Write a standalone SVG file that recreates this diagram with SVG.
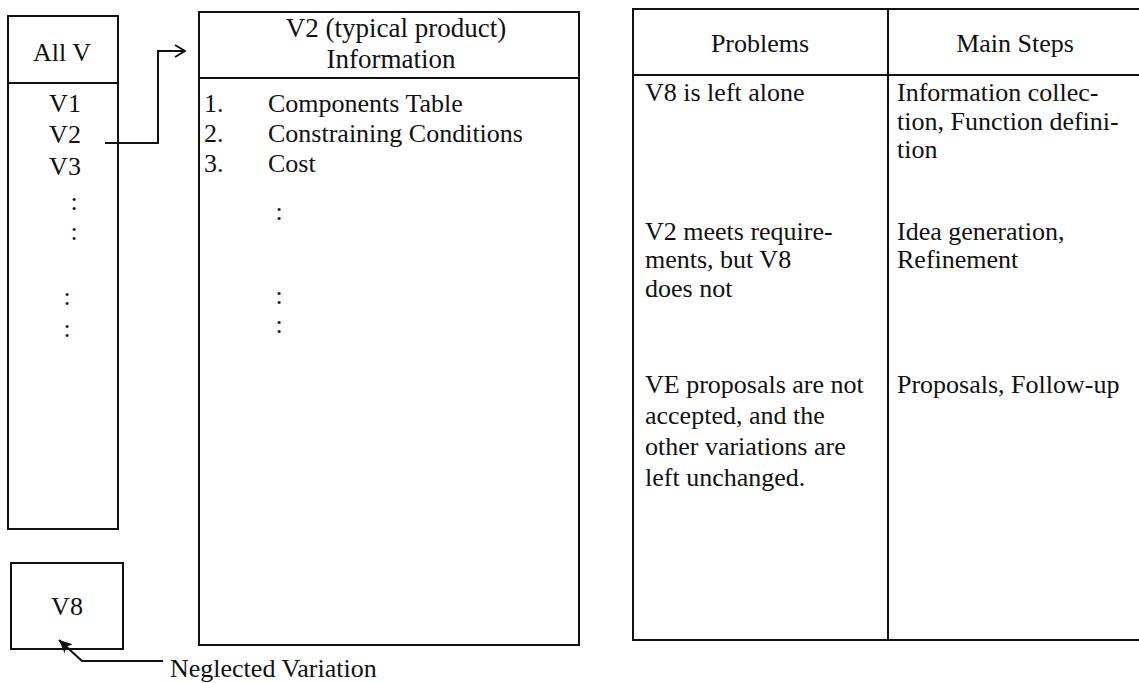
<svg xmlns="http://www.w3.org/2000/svg" width="1139" height="683" viewBox="0 0 1139 683">
<defs>
<style>
.b{fill:none;stroke:#111;stroke-width:2}
.t{font-family:"Liberation Serif","Times New Roman",serif;font-size:26px;fill:#111}
.h{font-size:27px}
.m{text-anchor:middle}
.c{fill:none;stroke:#111;stroke-width:2}
</style>
<marker id="open" viewBox="0 0 12 14" refX="11" refY="7" markerWidth="12" markerHeight="14" markerUnits="userSpaceOnUse" orient="auto">
<path d="M1,1 L11,7 L1,13" fill="none" stroke="#111" stroke-width="2"/>
</marker>
<marker id="solid" viewBox="0 0 14 14" refX="13" refY="7" markerWidth="14" markerHeight="14" markerUnits="userSpaceOnUse" orient="auto">
<path d="M0,1 L13,7 L0,13 L3,7 Z" fill="#111"/>
</marker>
</defs>
<rect width="1139" height="683" fill="#fff"/>

<g id="allv">
<rect class="b" x="8" y="16" width="110" height="513"/>
<line class="b" x1="8" y1="83" x2="118" y2="83"/>
<text class="t m" x="62" y="61">All V</text>
<text class="t m" x="65" y="112">V1</text>
<text class="t m" x="65" y="143">V2</text>
<text class="t m" x="65" y="175">V3</text>
<text class="t m" x="74" y="210">:</text>
<text class="t m" x="74" y="240">:</text>
<text class="t m" x="67" y="305">:</text>
<text class="t m" x="67" y="337">:</text>
</g>

<g id="v8">
<rect class="b" x="11" y="563" width="112" height="86"/>
<text class="t m" x="67" y="615">V8</text>
</g>

<g id="info">
<rect class="b" x="199" y="12" width="380" height="633"/>
<line class="b" x1="199" y1="78" x2="579" y2="78"/>
<text class="t h m" x="396" y="37">V2 (typical product)</text>
<text class="t h m" x="391" y="68">Information</text>
<text class="t" x="204" y="112">1.</text>
<text class="t" x="268" y="112">Components Table</text>
<text class="t" x="204" y="142">2.</text>
<text class="t" x="268" y="142">Constraining Conditions</text>
<text class="t" x="204" y="172">3.</text>
<text class="t" x="268" y="172">Cost</text>
<text class="t m" x="279" y="220">:</text>
<text class="t m" x="279" y="304">:</text>
<text class="t m" x="279" y="333">:</text>
</g>

<g id="table">
<rect class="b" x="633" y="9" width="520" height="631"/>
<line class="b" x1="633" y1="75" x2="1139" y2="75"/>
<line class="b" x1="888" y1="9" x2="888" y2="640"/>
<text class="t m" x="760" y="52">Problems</text>
<text class="t m" x="1015" y="52">Main Steps</text>
<text class="t" x="645" y="101">V8 is left alone</text>
<text class="t" x="897" y="101">Information collec-</text>
<text class="t" x="897" y="130">tion, Function defini-</text>
<text class="t" x="897" y="158">tion</text>
<text class="t" x="645" y="240">V2 meets require-</text>
<text class="t" x="645" y="268">ments, but V8</text>
<text class="t" x="645" y="297">does not</text>
<text class="t" x="897" y="240">Idea generation,</text>
<text class="t" x="897" y="268">Refinement</text>
<text class="t" x="645" y="393">VE proposals are not</text>
<text class="t" x="645" y="424">accepted, and the</text>
<text class="t" x="645" y="455">other variations are</text>
<text class="t" x="645" y="486">left unchanged.</text>
<text class="t" x="897" y="393">Proposals, Follow-up</text>
</g>

<g id="connectors">
<path class="c" d="M105,143 H158 V51 H185" marker-end="url(#open)"/>
<path class="c" d="M163,661 H82 L59,640" marker-end="url(#solid)"/>
</g>

<text class="t" x="170" y="677">Neglected Variation</text>
</svg>
